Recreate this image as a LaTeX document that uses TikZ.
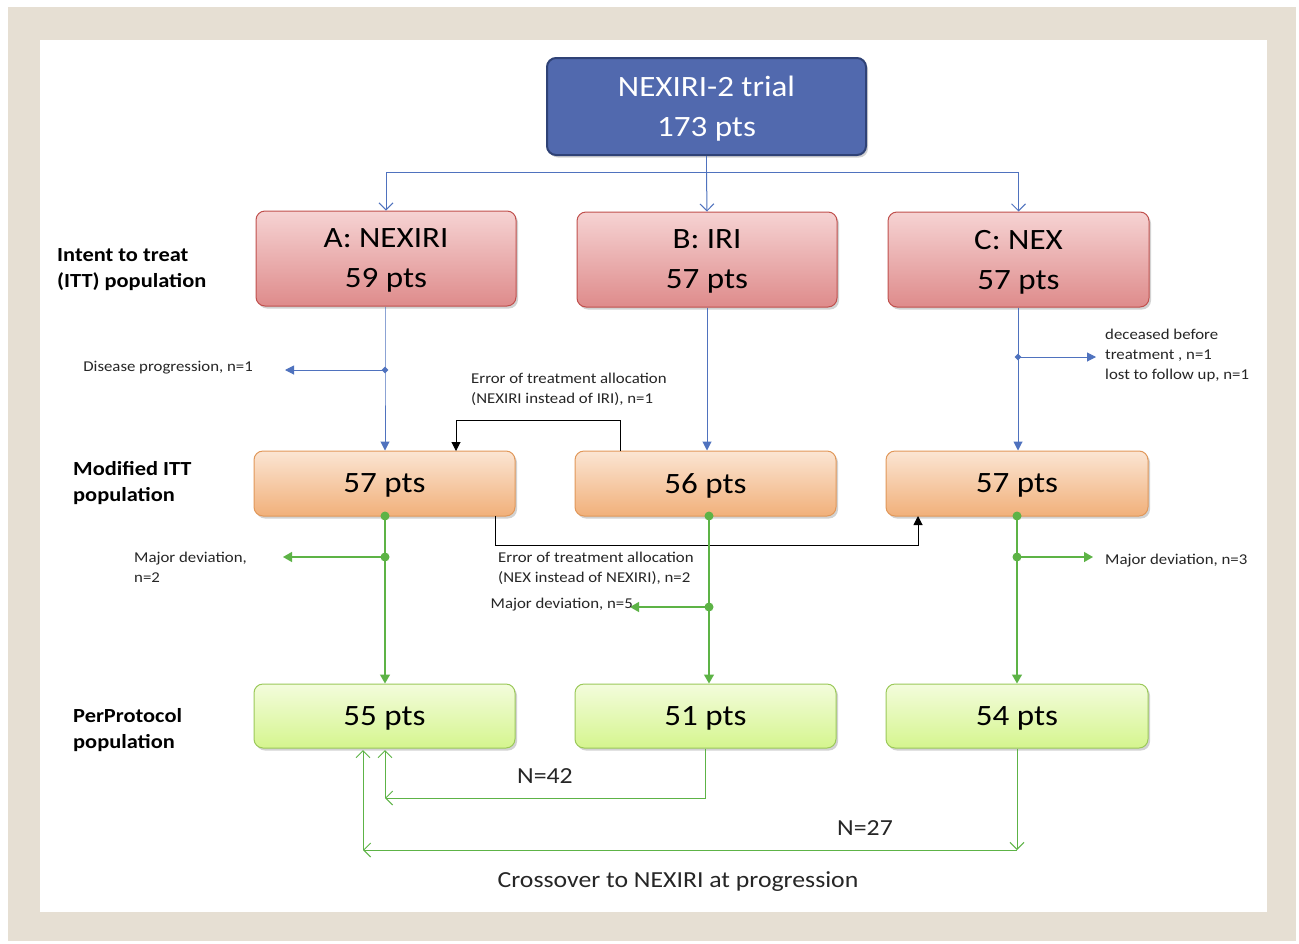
\documentclass[tikz,border=0pt]{standalone}
\usepackage{fontspec}
\setmainfont{Carlito}[FakeStretch=1.12]
\usetikzlibrary{arrows.meta,shadows,calc,shapes.geometric}
\definecolor{beige}{HTML}{E6DFD3}
\definecolor{topblue}{HTML}{5169AE}
\definecolor{topborder}{HTML}{2F4276}
\definecolor{lineblue}{HTML}{4F72BE}
\definecolor{linegreen}{HTML}{5DB346}
\definecolor{ittTop}{HTML}{F6D3D3}
\definecolor{ittBot}{HTML}{DE8B8B}
\definecolor{ittBorder}{HTML}{C0504D}
\definecolor{mTop}{HTML}{FBE5D3}
\definecolor{mBot}{HTML}{F1B07A}
\definecolor{mBorder}{HTML}{E1985A}
\definecolor{pTop}{HTML}{F3FCDC}
\definecolor{pBot}{HTML}{D5F58E}
\definecolor{pBorder}{HTML}{9BC95A}
\definecolor{txt}{HTML}{262626}
\tikzset{
  boxbase/.style={rounded corners=9pt, line width=1pt, align=center, inner sep=0pt, text depth=0pt,
    drop shadow={opacity=0.35, shadow xshift=2pt, shadow yshift=-2.5pt}},
  topbox/.style={boxbase, fill=topblue, draw=topborder, line width=2pt, text=white,
    minimum width=319pt, minimum height=97pt, font=\fontsize{29.5}{40}\selectfont},
  ittbox/.style={boxbase, top color=ittTop, bottom color=ittBot, draw=ittBorder,
    minimum width=260pt, minimum height=95pt, font=\fontsize{29.5}{40}\selectfont},
  mbox/.style={boxbase, top color=mTop, bottom color=mBot, draw=mBorder,
    minimum width=261pt, minimum height=65pt, font=\fontsize{29.5}{34}\selectfont},
  pbox/.style={boxbase, top color=pTop, bottom color=pBot, draw=pBorder,
    minimum width=261pt, minimum height=64pt, font=\fontsize{29.5}{34}\selectfont},
  lab/.style={text=txt, font=\fontsize{15}{20}\selectfont, align=left, inner sep=0pt},
  biglab/.style={text=txt, font=\fontsize{23}{26}\selectfont, inner sep=0pt},
  rowlab/.style={text=black, font=\bfseries\fontsize{20}{26}\selectfont, align=left, inner sep=0pt, anchor=west},
  blueopen/.style={draw=lineblue, line width=1pt, -{Straight Barb[length=7pt,width=14pt]}},
  bluefill/.style={draw=lineblue, line width=1pt, -{Triangle[length=9pt,width=9pt]}},
  blueline/.style={draw=lineblue, line width=1pt},
  greenfill/.style={draw=linegreen, line width=1.3pt, -{Triangle[length=9pt,width=10pt]}},
  greenline/.style={draw=linegreen, line width=1.3pt},
  greenopen/.style={draw=linegreen, line width=1pt, -{Straight Barb[length=7pt,width=14pt]}},
  blackarr/.style={draw=black, line width=1pt, -{Triangle[length=9pt,width=9pt]}},
  bluedot/.style={fill=lineblue, draw=none, shape=diamond, minimum size=7pt, inner sep=0pt},
  greendot/.style={fill=linegreen, draw=none, circle, minimum size=9pt, inner sep=0pt},
}
\begin{document}
\begin{tikzpicture}[x=1pt,y=-1pt]
% frame
\fill[white] (0,0) rectangle (1299,943);
\fill[beige] (8,7) rectangle (1296,941);
\fill[white] (40,40) rectangle (1267,912);
\useasboundingbox (0,0) rectangle (1299,943);

% boxes
\node[topbox] (T) at (706.5,106.5) {NEXIRI-2 trial\\173 pts};
\node[ittbox] (A1) at (386,258.5) {A: NEXIRI\\59 pts};
\node[ittbox] (B1) at (707,259.5) {B: IRI\\57 pts};
\node[ittbox, minimum width=261pt] (C1) at (1018.5,259.5) {C: NEX\\57 pts};
\node[mbox] (A2) at (384.5,483.5) {57 pts};
\node[mbox] (B2) at (705.5,483.5) {56 pts};
\node[mbox, minimum width=262pt] (C2) at (1017,483.5) {57 pts};
\node[pbox] (A3) at (384.5,716) {55 pts};
\node[pbox] (B3) at (705.5,716) {51 pts};
\node[pbox, minimum width=262pt] (C3) at (1017,716) {54 pts};

% row labels
\node[rowlab] (L1) at (57,270) {Intent to treat\\(ITT) population};
\node[rowlab] (L2) at (73,483.5) {Modified ITT\\population};
\node[rowlab] (L3) at (73,730.5) {PerProtocol\\population};

% top branching
\coordinate (tj) at (706.5,172);
\draw[blueline] (T.south) -- (tj);
\draw[blueopen] (tj) -- (A1.north |- tj) -- (A1.north);
\draw[blueopen] (tj) -- (B1.north);
\draw[blueopen] (tj) -- (C1.north |- tj) -- (C1.north);

% ITT -> mITT
\node[bluedot] (dA) at (385,370) {};
\coordinate (dAe) at (285,370);
\draw[bluefill] (A1.south -| dA) -- (dA.center) -- (A2.north -| dA);
\draw[bluefill] (dA.center) -- (dAe);
\node[lab, anchor=east] (lA) at (253,368) {Disease progression, n=1};

\draw[bluefill] (B1.south) -- (B2.north -| B1.south);

\node[bluedot] (dC) at (1018,357) {};
\coordinate (dCe) at (1096,357);
\draw[bluefill] (C1.south -| dC) -- (dC.center) -- (C2.north -| dC);
\draw[bluefill] (dC.center) -- (dCe);
\node[lab, anchor=west] (lC) at (1105,355) {deceased before\\treatment , n=1\\lost to follow up, n=1};

% error of allocation 1 (B -> A)
\coordinate (e1s) at (620,451);
\coordinate (e1t) at (456,451);
\draw[blackarr] (e1s) -- ++(0,-31) -| (e1t);
\node[lab, anchor=west] (le1) at (471,389) {Error of treatment allocation\\(NEXIRI instead of IRI), n=1};

% error of allocation 2 (A -> C)
\coordinate (e2s) at (495,516);
\coordinate (e2t) at (918,516);
\draw[blackarr] (e2s) -- ++(0,29) -| (e2t);
\node[lab, anchor=west] (le2) at (498,568) {Error of treatment allocation\\(NEX instead of NEXIRI), n=2};

% mITT -> PP
\node[greendot] (gA0) at (385,516) {};
\node[greendot] (gA1) at (385,557) {};
\coordinate (gAe) at (283,557);
\draw[greenfill] (gA0.center) -- (gA1.center) -- (A3.north -| gA0);
\draw[greenfill] (gA1.center) -- (gAe);
\node[lab, anchor=west] (lgA) at (134,567) {Major deviation,\\n=2};

\node[greendot] (gB0) at (709,516) {};
\node[greendot] (gB1) at (709,607) {};
\coordinate (gBe) at (630,607);
\draw[greenfill] (gB0.center) -- (gB1.center) -- (B3.north -| gB0);
\draw[greenfill] (gB1.center) -- (gBe);
\node[lab, anchor=east] (lgB) at (633,605) {Major deviation, n=5};

\node[greendot] (gC0) at (1017,516) {};
\node[greendot] (gC1) at (1017,557) {};
\coordinate (gCe) at (1093,557);
\draw[greenfill] (gC0.center) -- (gC1.center) -- (C3.north -| gC0);
\draw[greenfill] (gC1.center) -- (gCe);
\node[lab, anchor=west] (lgC) at (1105,561) {Major deviation, n=3};

% crossovers
\coordinate (x42c) at (385,798);
\coordinate (x42a) at (385,750);
\draw[greenopen] (B3.south) -- (B3.south |- x42c) -- (x42c);
\draw[greenopen] (x42c) -- (x42a);
\node[biglab] (n42) at (545,776) {N=42};

\coordinate (x27d) at (1017,850);
\coordinate (x27c) at (363,850);
\coordinate (x27a) at (363,750);
\draw[greenopen] (C3.south) -- (x27d);
\draw[greenopen] (x27d) -- (x27c);
\draw[greenopen] (x27c) -- (x27a);
\node[biglab] (n27) at (865,828) {N=27};
\node[biglab] (cross) at (678,882) {Crossover to NEXIRI at progression};
\end{tikzpicture}
\end{document}
